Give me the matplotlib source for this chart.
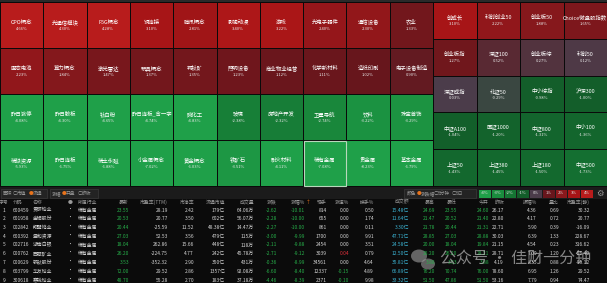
import numpy as np
import matplotlib.pyplot as plt
from matplotlib.colors import LinearSegmentedColormap, Normalize
from matplotlib.patches import Rectangle, Ellipse

plt.rcParams['font.family'] = ['Noto Sans CJK SC', 'DejaVu Sans']

# sector heatmap, 4 rows x 10 columns
sector_names = ['CPO概念', '光通信模块', 'F5G概念', '铜连接', '腾讯概念',
                '影视动漫', '游戏', '光电子器件', '通信设备', '农业',
                '固态电池', '算力概念', '激光雷达', '玩具概念', '钙钛矿',
                '照明设备', '商业物业经营', '化学新材料', '造纸印刷', '电子设备制造',
                '昨日涨停', '昨日触板', '钛白粉', '昨日连板_含一字', '磷化工',
                '玻璃', '房地产开发', '卫星导航', '饮料', '珠宝首饰',
                '稀缺资源', '昨日连板', '稀土永磁', '小金属概念', '黄金概念',
                '铁矿石', '耐火材料', '稀有金属', '贵金属', '基本金属']
sector_pct = [4.66, 4.30, 4.28, 3.10, 2.81, 3.40, 3.22, 2.40, 2.30, 1.33,
              2.23, 1.84, 1.47, 1.37, 1.35, 1.23, 1.12, 1.11, 1.02, 0.90,
              -4.08, -4.30, -4.65, -4.74, -4.83, -2.38, -2.32, -2.74, -3.22, -3.29,
              -5.93, -6.75, -6.88, -7.02, -6.03, -3.51, -4.11, -7.08, -8.23, -6.79]
selected_sector = '稀有金属'

# index heatmap, 5 rows x 4 columns
index_names = ['创成长', '科创创业50', '创业板50', 'Choice微盘股指数',
               '创业板指', '深证100', '创业板综', '科创50',
               '深证成指', '北证50', '中小综指', '沪深300',
               '中证A100', '国证1000', '中证800', '中小100',
               '上证50', '上证380', '上证180', '中证500']
index_pct = [3.10, 2.22, 1.88, 1.65,
             1.27, 0.52, 0.27, 0.12,
             0.03, -0.29, -0.98, -1.00,
             -1.04, -1.20, -1.31, -1.36,
             -1.43, -1.45, -1.50, -1.73]

legend_steps = [-4, -3, -2, -1, 0, 1, 2, 3, 4]

# stock table
codes = ['600459', '601958', '002842', '600392', '002716', '000762', '000629', '603799', '300618']
names = ['贵研铂业', '金钼股份', '翔鹭钨业', '盛和资源', '湖南白银', '西藏矿业', '钒钛股份', '华友钴业', '寒锐钴业']
industry = ['稀有金属'] * 9
latest = [23.55, 20.53, 20.44, 27.03, 18.04, 26.20, 3.53, 72.00, 48.70]
pe_ttm = [28.19, 20.77, -25.59, 52.53, 262.86, -224.75, -352.32, 29.52, 55.28]
pb = [2.42, 3.50, 11.52, 3.56, 15.66, 4.77, 2.90, 2.86, 2.70]
float_cap = ['179亿', '602亿', '48.38亿', '479亿', '448亿', '242亿', '350亿', '1357亿', '183亿']
volume = ['64.06万', '56.07万', '14.47万', '115万', '118万', '45.78万', '431万', '92.08万', '37.18万']
change = [-2.62, -2.28, -2.27, -3.00, -2.11, -2.71, -0.36, -6.60, -4.46]
pct_chg = [-10.01, -10.00, -10.00, -9.99, -9.88, -9.12, -8.99, -8.40, -8.39]
last_hand = [814, 655, 861, 1700, 2454, 3039, 34561, 12337, 2371]
speed = [0.00, 0.00, 0.00, 0.00, 0.00, 0.04, 0.00, -0.15, -0.10]
turnover = [0.50, 1.74, 0.11, 9.91, 3.51, 0.79, 4.64, 4.89, 9.98]
amount = ['15.48亿', '11.64亿', '3.30亿', '47.71亿', '24.58亿', '12.50亿', '35.81亿', '66.89亿', '33.32亿']
high = [24.69, 21.47, 21.78, 28.85, 20.00, 28.20, 3.88, 76.20, 51.50]
low = [23.55, 20.52, 20.44, 27.03, 18.04, 26.20, 3.53, 70.74, 47.86]
open_px = [24.60, 21.40, 21.31, 28.88, 19.84, 28.21, 3.88, 76.00, 51.50]
prev_close = [26.17, 22.80, 22.71, 30.03, 21.15, 28.71, 4.19, 78.60, 53.16]
amplitude = [4.36, 4.17, 5.90, 6.39, 4.54, 7.00, 8.35, 6.95, 7.79]
vol_ratio = [0.69, 0.72, 0.39, 1.33, 0.23, 1.20, 0.88, 1.26, 0.94]
pe_static = [30.32, 20.77, -16.09, 228.67, 316.62, -86.40, -95.12, 29.52, 74.47]

WHITE = '#d6d6d6'
GREEN = '#27b04a'
RED = '#e0303a'
CYAN = '#3cb6d6'
ORANGE = '#e8731c'
GRAY = '#9a9a9a'

cmap = LinearSegmentedColormap.from_list('updown', [
    (0.0, '#1fa049'), (0.125, '#1a8d3e'), (0.25, '#157533'), (0.375, '#125e2a'),
    (0.5, '#4b3d4b'), (0.625, '#66161c'), (0.75, '#8a181c'), (0.875, '#a51416'),
    (1.0, '#b81c1c')])
norm = Normalize(-4, 4)

fig = plt.figure(figsize=(6.07, 2.83), dpi=100)
fig.patch.set_facecolor('#0b0b0b')
ax = fig.add_axes([0, 0, 1, 1])
ax.set_xlim(0, 607)
ax.set_ylim(283, 0)
ax.axis('off')

# backgrounds
ax.add_patch(Rectangle((0, 0), 607, 2, color='#2a2a2a', lw=0))
ax.add_patch(Rectangle((0, 186), 607, 13, color='#1b1b1b', lw=0))

# sector treemap
sx = np.linspace(0, 433, 11)
sy = np.linspace(2, 186, 5)
ax.pcolormesh(sx, sy, np.array(sector_pct).reshape(4, 10), cmap=cmap, norm=norm,
              edgecolors='#0a0a0a', linewidth=0.5)
for i, (name, v) in enumerate(zip(sector_names, sector_pct)):
    r, c = divmod(i, 10)
    cx = (sx[c] + sx[c + 1]) / 2
    cy = (sy[r] + sy[r + 1]) / 2
    ax.text(cx, cy - 3, name, color='white', fontsize=3.9, ha='center', va='center')
    ax.text(cx, cy + 4, f'{v:.2f}%', color='#e8e8e8', fontsize=3.0, ha='center', va='center')
    if name == selected_sector:
        ax.add_patch(Rectangle((sx[c] + 0.5, sy[r] + 0.5), sx[c + 1] - sx[c] - 1, sy[r + 1] - sy[r] - 1,
                               fill=False, edgecolor='#b8d8bc', lw=0.8))

# index treemap
ix = np.linspace(433, 607, 5)
iy = np.linspace(2, 186, 6)
ax.pcolormesh(ix, iy, np.array(index_pct).reshape(5, 4), cmap=cmap, norm=norm,
              edgecolors='#0a0a0a', linewidth=0.5)
for i, (name, v) in enumerate(zip(index_names, index_pct)):
    r, c = divmod(i, 4)
    cx = (ix[c] + ix[c + 1]) / 2
    cy = (iy[r] + iy[r + 1]) / 2
    ax.text(cx, cy - 3, name, color='white', fontsize=3.9, ha='center', va='center')
    ax.text(cx, cy + 4, f'{v:.2f}%', color='#e8e8e8', fontsize=3.0, ha='center', va='center')

# toolbar
def toolbar(x0, x1, items):
    ax.add_patch(Rectangle((x0, 189), x1 - x0, 8.5, facecolor='#232323', edgecolor='#3a3a3a', lw=0.5))
    for x, s, col in items:
        ax.text(x, 193.3, s, color=col, fontsize=3.4, ha='left', va='center')

toolbar(1, 47, [(3, '面积', GRAY), (13, '○', GRAY), (17, '市值', GRAY), (29, '●', ORANGE), (33, '流通', GRAY)])
toolbar(50, 98, [(52, '涨幅', GRAY), (62, '●', ORANGE), (66, '开盘', GRAY), (78, '○', GRAY), (82, '昨收', GRAY)])
toolbar(404, 476, [(407, '颜色', GRAY), (417, '●', ORANGE), (421, '涨跌幅', GRAY),
                   (434, '○', GRAY), (438, '5分钟', GRAY), (452, '○', GRAY), (456, '5日', GRAY)])
lx = np.linspace(478, 593, len(legend_steps) + 1)
ax.pcolormesh(lx, [189, 198], np.array([legend_steps]), cmap=cmap, norm=norm,
              edgecolors='#1b1b1b', linewidth=0.4)
for k, s in enumerate(legend_steps):
    ax.text((lx[k] + lx[k + 1]) / 2, 193.5, f'{s}%', color='#e0e0e0', fontsize=3.0, ha='center', va='center')
ax.text(600, 193.5, '⚙', color=GRAY, fontsize=6, ha='center', va='center')

# table
def signed(vals):
    return [GREEN if v < 0 else (RED if v > 0 else WHITE) for v in vals]

n = len(codes)
columns = [
    ('序号', [str(i + 1) for i in range(n)], 4, 'center', [WHITE] * n),
    ('代码', codes, 13, 'left', [WHITE] * n),
    ('名称', names, 33, 'left', [WHITE] * n),
    ('●', ['•'] * n, 70, 'center', [WHITE] * n),
    ('所属行业', industry, 78, 'left', [WHITE] * n),
    ('最新', [f'{v:.2f}' for v in latest], 129, 'right', [GREEN] * n),
    ('市盈率(TTM)', [f'{v:.2f}' for v in pe_ttm], 168, 'right', [WHITE] * n),
    ('市净率', [f'{v:.2f}' for v in pb], 194, 'right', [WHITE] * n),
    ('流通市值', float_cap, 225, 'right', [WHITE] * n),
    ('成交量', volume, 254, 'right', [WHITE] * n),
    ('涨跌', [f'{v:.2f}' for v in change], 277, 'right', signed(change)),
    ('涨幅%', [f'{v:.2f}' for v in pct_chg], 305, 'right', signed(pct_chg)),
    ('现手', [str(v) for v in last_hand], 327, 'right', [WHITE] * n),
    ('涨速%', [f'{v:.2f}' for v in speed], 349, 'right', signed(speed)),
    ('换手%', [f'{v:.2f}' for v in turnover], 374, 'right', [WHITE] * n),
    ('成交额', amount, 409, 'right', [CYAN] * n),
    ('最高', [f'{v:.2f}' for v in high], 435, 'right', [GREEN] * n),
    ('最低', [f'{v:.2f}' for v in low], 457, 'right', [GREEN] * n),
    ('今开', [f'{v:.2f}' for v in open_px], 489, 'right', [GREEN] * n),
    ('昨收', [f'{v:.2f}' for v in prev_close], 504, 'right', [WHITE] * n),
    ('振幅%', [f'{v:.2f}' for v in amplitude], 537, 'right', [WHITE] * n),
    ('量比', [f'{v:.2f}' for v in vol_ratio], 559, 'right', [WHITE] * n),
    ('市盈率(静)', [f'{v:.2f}' for v in pe_static], 590, 'right', [WHITE] * n),
]
row_y = 210 + 8.75 * np.arange(n)
for header, vals, x, ha, cols in columns:
    ax.text(x, 202, header, color=GRAY, fontsize=3.5, ha=ha, va='center')
    for y, s, col in zip(row_y, vals, cols):
        ax.text(x, y, s, color=col, fontsize=3.5, ha=ha, va='center')
ax.text(306, 202, '↑', color=ORANGE, fontsize=3.5, ha='left', va='center')

# watermark
ax.add_patch(Ellipse((419, 256), 16, 13, color='#bdbdbd', alpha=0.5, lw=0))
ax.add_patch(Ellipse((428, 264), 14, 11, color='#9a9a9a', alpha=0.6, lw=0))
ax.text(440, 259, '公众号 · 佳财一分钟', color='#d8d8d8', alpha=0.6, fontsize=11.5,
        ha='left', va='center')

fig.savefig('out.png', dpi=100, facecolor=fig.get_facecolor())
